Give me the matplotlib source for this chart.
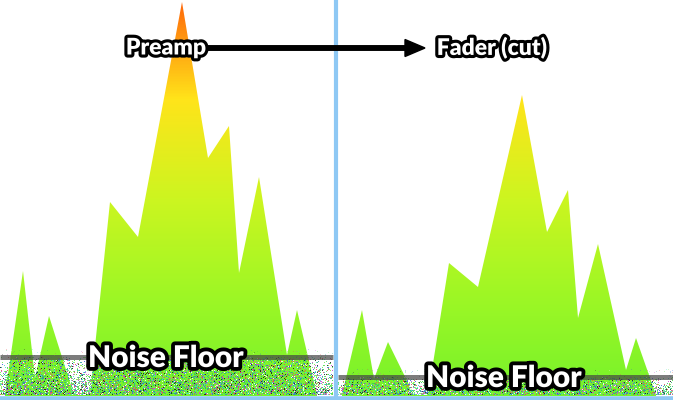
import numpy as np
import matplotlib
matplotlib.use("Agg")
import matplotlib.pyplot as plt
import matplotlib.patheffects as pe
from matplotlib.colors import LinearSegmentedColormap, to_rgb
from matplotlib.patches import Polygon
from matplotlib.path import Path

W, H = 673, 400

# spectrum outlines (pixel coords, y down), before and after the fader
preamp_x = [5, 23, 35, 49, 74, 90, 110, 138, 182, 208, 229, 239, 259, 287, 297, 317]
preamp_y = [395, 271, 378, 316, 395, 395, 202, 237, 2, 158, 126, 273, 177, 355, 310, 395]
fader_x = [342, 362, 374, 388, 414, 428, 449, 478, 522, 547, 568, 578, 598, 626, 636, 656]
fader_y = [395, 310, 379, 342, 395, 395, 263, 287, 95, 232, 190, 318, 244, 370, 338, 395]

noise_floor = [357, 377]          # y of the floor line in each panel
panel_x = [(0, 333), (338, 673)]
titles = ["Preamp", "Fader (cut)"]

# colour ramp from bottom (green) to top (orange)
grad = LinearSegmentedColormap.from_list(
    "level",
    [(0.0, "#77f22b"), (0.25, "#9ef725"), (0.5, "#cdf520"),
     (0.75, "#ffe41a"), (0.88, "#ffa412"), (1.0, "#ff660a")])

fig = plt.figure(figsize=(W / 100, H / 100), dpi=100)
ax = fig.add_axes([0, 0, 1, 1])
ax.set_xlim(0, W)
ax.set_ylim(H, 0)
ax.axis("off")

yy = np.linspace(0, 1, H).reshape(-1, 1)
ramp = np.repeat(1 - yy * 400 / 395, 2, axis=1).clip(0, 1)

rng = np.random.default_rng(7)
palette = np.array([to_rgb(c) for c in
                    ["#3fdc3f", "#52e85a", "#2fbf6a", "#6ee84a", "#c84bd0",
                     "#3a5fe0", "#1a1a1a", "#ffffff", "#40d8d0", "#e05050",
                     "#8af03a", "#27a0a0"]])

for xs, ys, fl, (x0, x1) in zip([preamp_x, fader_x], [preamp_y, fader_y], noise_floor, panel_x):
    verts = [(xs[0], 396)] + list(zip(xs, ys)) + [(xs[-1], 396)]
    poly = Polygon(verts, closed=True, facecolor="none", edgecolor="none")
    ax.add_patch(poly)
    im = ax.imshow(ramp, cmap=grad, extent=(0, W, H, 0), aspect="auto",
                   vmin=0, vmax=1, zorder=1)
    im.set_clip_path(poly)

    # noise texture under the floor
    top = fl - 8
    rows = np.arange(top, 395)
    cols = np.arange(x0, x1)
    cx, cy = np.meshgrid(cols + 0.5, rows + 0.5)
    inside = Path(verts).contains_points(np.c_[cx.ravel(), cy.ravel()]).reshape(cx.shape)
    below = ((cy - fl) / (395 - fl)).clip(0, 1)
    prob = np.where(cy < fl, 0.06,
                    np.where(inside, 0.35 + 0.35 * below, 0.12 + 0.65 * below ** 1.4))
    hit = rng.random(cx.shape) < prob
    rgba = np.zeros(cx.shape + (4,))
    rgba[..., :3] = palette[rng.integers(0, len(palette), cx.shape)]
    rgba[..., 3] = np.where(hit, np.where(cy < fl, 0.3, 0.85), 0.0)
    ax.imshow(rgba, extent=(x0, x1, 395, top), aspect="auto",
              interpolation="nearest", zorder=2)

    ax.plot([x0, x1], [fl, fl], color="#444444", alpha=0.7, lw=3.6,
            solid_capstyle="butt", zorder=3)

# divider and bottom edge
ax.plot([335.5, 335.5], [0, H], color="#8ec8f4", lw=3.0, zorder=4)
ax.plot([0, W], [397.8, 397.8], color="#8ec8f4", lw=3.3, zorder=4)

ax.arrow(208, 48, 217, 0, width=4.5, head_width=17, head_length=20,
         length_includes_head=True, color="black", zorder=5)

font = dict(family=["Lato", "DejaVu Sans"], weight="heavy", color="white", zorder=6)
ax.text(166, 48, titles[0], ha="center", va="center", fontsize=16.5,
        path_effects=[pe.withStroke(linewidth=4.5, foreground="black")], **font)
ax.text(492, 48, titles[1], ha="center", va="center", fontsize=16.5,
        path_effects=[pe.withStroke(linewidth=4.5, foreground="black")], **font)
for cx_, fl in zip([166, 504], noise_floor):
    ax.text(cx_, fl + 1, "Noise Floor", ha="center", va="center", fontsize=21.5,
            path_effects=[pe.withStroke(linewidth=5.5, foreground="black")], **font)

fig.savefig("out.png", dpi=100)
